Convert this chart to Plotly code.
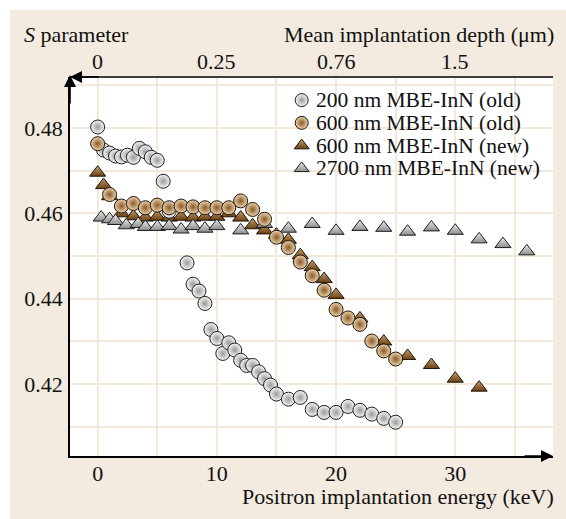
import plotly.graph_objects as go

# ---- data -------------------------------------------------------------
# 200 nm MBE-InN (old)
e_200_old = [0, 0.5, 1, 1.5, 2, 2.5, 3, 3.5, 4, 4.5, 5, 5.5, 6, 7.5, 8, 8.5, 9,
             9.5, 10, 10.5, 11, 11.5, 12, 12.5, 13, 13.5, 14, 14.5, 15, 16, 17,
             18, 19, 20, 21, 22, 23, 24, 25]
s_200_old = [0.4802, 0.4748, 0.4741, 0.4734, 0.4732, 0.4736, 0.4731, 0.4752,
             0.4744, 0.4731, 0.4724, 0.4675, 0.4605, 0.4484, 0.4434, 0.4418,
             0.4389, 0.4328, 0.4307, 0.4272, 0.4297, 0.4280, 0.4256, 0.4244,
             0.4244, 0.4229, 0.4213, 0.4198, 0.4177, 0.4165, 0.4169, 0.4141,
             0.4134, 0.4134, 0.4148, 0.4139, 0.4130, 0.4120, 0.4111]

# 600 nm MBE-InN (old)
e_600_old = [0, 1, 2, 3, 4, 5, 6, 7, 8, 9, 10, 11, 12, 13, 14, 15, 16, 17, 18,
             19, 20, 21, 22, 23, 24, 25]
s_600_old = [0.4763, 0.4644, 0.4617, 0.4623, 0.4613, 0.4619, 0.4613, 0.4617,
             0.4615, 0.4613, 0.4613, 0.4613, 0.4629, 0.4609, 0.4586, 0.4544,
             0.4520, 0.4486, 0.4454, 0.4420, 0.4375, 0.4355, 0.4340, 0.4301,
             0.4278, 0.4259]

# 600 nm MBE-InN (new)
e_600_new = [0, 0.5, 1, 2, 3, 4, 5, 6, 7, 8, 9, 10, 11, 12, 13, 14, 15, 16, 17,
             18, 19, 20, 22, 24, 26, 28, 30, 32]
s_600_new = [0.4695, 0.4666, 0.4640, 0.4600, 0.4593, 0.4590, 0.4592, 0.4590,
             0.4592, 0.4590, 0.4592, 0.4592, 0.4600, 0.4590, 0.4572, 0.4560,
             0.4550, 0.4538, 0.4502, 0.4474, 0.4446, 0.4409, 0.4354, 0.4300,
             0.4266, 0.4245, 0.4213, 0.4192]

# 2700 nm MBE-InN (new)
e_2700_new = [0.3, 1, 1.5, 2.4, 3.4, 4, 5, 6, 7, 8, 9, 10, 12, 14, 16, 18, 20,
              22, 24, 26, 28, 30, 32, 34, 36]
s_2700_new = [0.4590, 0.4586, 0.4582, 0.4572, 0.4575, 0.4568, 0.4568, 0.4570,
              0.4562, 0.4570, 0.4564, 0.4570, 0.4560, 0.4575, 0.4564, 0.4575,
              0.4559, 0.4568, 0.4566, 0.4557, 0.4567, 0.4559, 0.4539, 0.4528,
              0.4511]

# top axis: mean implantation depth at the energy ticks
depth_tick_energy = [0, 10, 20, 30]
depth_tick_text = ["0", "0.25", "0.76", "1.5"]

legend_labels = ["200 nm MBE-InN (old)", "600 nm MBE-InN (old)",
                 "600 nm MBE-InN (new)", "2700 nm MBE-InN (new)"]

# ---- styles -------------------------------------------------------------
FONT = "Liberation Serif, Times New Roman, Times, serif"
FS = 22
INK = "#111111"
PANEL = "#F3EBE0"
GRID = "#F3E8DA"

gray_circle = dict(symbol="circle", size=14, color="#F6F6F6",
                   gradient=dict(type="radial", color="#9A9A9A"),
                   line=dict(color="#1E1E1E", width=1))
brown_circle = dict(symbol="circle", size=14, color="#EBD2AE",
                    gradient=dict(type="radial", color="#8A5A26"),
                    line=dict(color="#1E1408", width=1))
brown_tri = dict(symbol="triangle-up", size=14, color="#C9A070",
                 gradient=dict(type="vertical", color="#6A4010"),
                 line=dict(color="#1E1408", width=1))
gray_tri = dict(symbol="triangle-up", size=14, color="#EDEDED",
                gradient=dict(type="vertical", color="#8C8C8C"),
                line=dict(color="#1E1E1E", width=1))
styles = [gray_circle, brown_circle, brown_tri, gray_tri]

fig = go.Figure()

# drawing order: new 600 nm triangles at the back, old 600 nm circles in front
fig.add_trace(go.Scatter(x=e_600_new, y=s_600_new, mode="markers",
                         marker=brown_tri, showlegend=False))
fig.add_trace(go.Scatter(x=e_200_old, y=s_200_old, mode="markers",
                         marker=gray_circle, showlegend=False))
fig.add_trace(go.Scatter(x=e_2700_new, y=s_2700_new, mode="markers",
                         marker=gray_tri, showlegend=False))
fig.add_trace(go.Scatter(x=e_600_old, y=s_600_old, mode="markers",
                         marker=brown_circle, showlegend=False))

# key, drawn on its own unit axes over the plot area
key_x = 0.4797
key_y0 = 0.939
key_dy = 0.0600
for i, (label, st) in enumerate(zip(legend_labels, styles)):
    ky = key_y0 - i * key_dy
    mk = dict(st)
    mk["size"] = 13
    fig.add_trace(go.Scatter(x=[key_x], y=[ky], mode="markers", marker=mk,
                             xaxis="x3", yaxis="y3", showlegend=False,
                             hoverinfo="skip"))
    fig.add_annotation(x=key_x + 0.026, y=ky, xref="x3", yref="y3", text=label,
                       showarrow=False, xanchor="left", yanchor="middle",
                       font=dict(family=FONT, size=21.5, color=INK))

x_range = [-2.32, 38.2]
y_range = [0.4032, 0.4919]

fig.update_layout(
    width=566, height=519,
    margin=dict(l=70, r=13, t=77, b=63),
    paper_bgcolor=PANEL, plot_bgcolor="white",
    font=dict(family=FONT, size=FS, color=INK),
    showlegend=False,
    xaxis=dict(range=x_range, tick0=0, dtick=10, showgrid=True,
               gridcolor=GRID, gridwidth=2,
               minor=dict(dtick=5, showgrid=True, gridcolor=GRID, gridwidth=2),
               zeroline=False, showline=True, linecolor="black", linewidth=1.6,
               ticks="", ticklabelstandoff=-3),
    yaxis=dict(range=y_range, tick0=0.42, dtick=0.02, tickformat=".2f",
               showgrid=True, gridcolor=GRID, gridwidth=2,
               minor=dict(dtick=0.01, showgrid=True, gridcolor=GRID,
                          gridwidth=2),
               zeroline=False, showline=True, linecolor="black",
               linewidth=1.6, ticks="", ticklabelstandoff=1),
    xaxis3=dict(range=[0, 1], domain=[0, 1], anchor="y3", overlaying="x",
                visible=False),
    yaxis3=dict(range=[0, 1], domain=[0, 1], anchor="x3", overlaying="y",
                visible=False),
)

W, H = 483.0, 379.0

# top axis line with the mean implantation depth labels
fig.add_shape(type="line", xref="paper", yref="paper", x0=0, x1=1, y0=1, y1=1,
              line=dict(color="black", width=1.6))
for ev, txt in zip(depth_tick_energy, depth_tick_text):
    fig.add_annotation(x=ev, y=(H + 15.5) / H, xref="x", yref="paper",
                       text=txt, showarrow=False, xanchor="center",
                       yanchor="middle", font=dict(family=FONT, size=FS,
                                                   color=INK))

# white strips outside the panel (top and left edges)
fig.add_shape(type="rect", xref="paper", yref="paper", layer="below",
              x0=-80 / W, x1=520 / W, y0=(H + 67) / H, y1=(H + 90) / H,
              fillcolor="white", line_width=0)
fig.add_shape(type="rect", xref="paper", yref="paper", layer="below",
              x0=-80 / W, x1=-60 / W, y0=-80 / H, y1=(H + 90) / H,
              fillcolor="white", line_width=0)

# axis arrowheads
arrow = dict(xref="paper", yref="paper", text="", showarrow=True,
             arrowhead=2, arrowsize=1.5, arrowwidth=1.6, arrowcolor="black",
             standoff=0)
fig.add_annotation(x=1, y=0, ax=-30, ay=0, **arrow)
fig.add_annotation(x=0, y=1, ax=30, ay=0, **arrow)
fig.add_annotation(x=0, y=1.005, ax=0, ay=30, **arrow)

# axis titles
fig.add_annotation(x=-48 / W, y=(H + 43) / H, xref="paper", yref="paper",
                   text="<i>S</i> parameter", showarrow=False,
                   xanchor="left", yanchor="middle",
                   font=dict(family=FONT, size=FS, color=INK))
fig.add_annotation(x=486 / W, y=(H + 43) / H, xref="paper", yref="paper",
                   text="Mean implantation depth (μm)", showarrow=False,
                   xanchor="right", yanchor="middle",
                   font=dict(family=FONT, size=FS, color=INK))
fig.add_annotation(x=486 / W, y=-40 / H, xref="paper", yref="paper",
                   text="Positron implantation energy (keV)", showarrow=False,
                   xanchor="right", yanchor="middle",
                   font=dict(family=FONT, size=FS, color=INK))

fig.write_html("out.html")
